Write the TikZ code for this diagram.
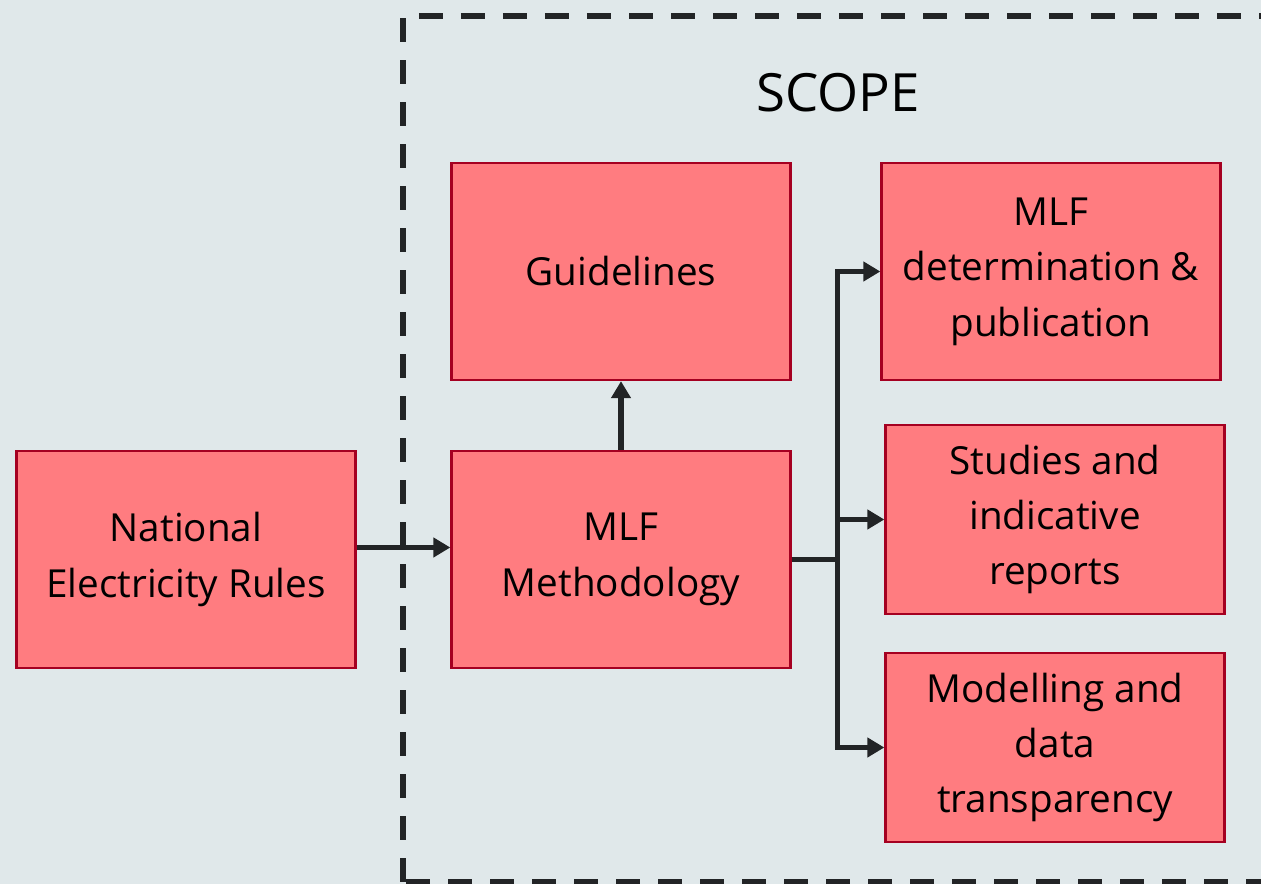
\documentclass[tikz,border=0pt]{standalone}
\usepackage{fontspec}
\setmainfont{Open Sans}
\usetikzlibrary{positioning,arrows.meta}
\definecolor{bgcol}{HTML}{E0E8EA}
\definecolor{boxfill}{HTML}{FF7C80}
\definecolor{boxline}{HTML}{A50021}
\definecolor{arrowcol}{HTML}{222426}

\begin{document}
\begin{tikzpicture}[on grid,
        box/.style={rectangle,draw=boxline,fill=boxfill,line width=1.3pt,
            minimum width=6.78cm,minimum height=4.34cm,align=center,
            font=\fontsize{22}{31.5}\selectfont},
        shortbox/.style={box,minimum height=3.78cm},
        link/.style={draw=arrowcol,line width=3.2pt,
            -{Triangle[length=0.34cm,width=0.38cm]}}]
        \fill[bgcol] (0,0) rectangle (25.22,-17.68);
        \useasboundingbox (0,0) rectangle (25.22,-17.68);
        \begin{scope}
        \clip (0,0) rectangle (25.22,-17.68);
        \draw[arrowcol,line width=3.4pt,dash pattern=on 0.48cm off 0.36cm]
            (8.06,-17.64) -- (8.06,-0.32) -- (26,-0.32);
        \draw[arrowcol,line width=3.4pt,dash pattern=on 0.48cm off 0.36cm]
            (8.12,-17.64) -- (26,-17.64);
        \end{scope}
        \node (scope) at (16.76,-1.86) {\fontsize{30}{36}\selectfont SCOPE};

        \node[box] (ner) at (3.72,-11.19) {National\\Electricity Rules};
        \node[box] (meth) [right=8.7cm of ner] {MLF\\Methodology};
        \node[box] (guide) [above=5.76cm of meth] {Guidelines};
        \node[box] (det) [above right=5.76cm and 8.6cm of meth] {MLF\\determination \&\\publication};
        \node[shortbox] (studies) [above right=0.8cm and 8.68cm of meth] {Studies and\\indicative\\reports};
        \node[shortbox] (model) [below right=3.76cm and 8.68cm of meth] {Modelling and\\data\\transparency};
        \coordinate (split) at ([xshift=0.92cm]meth.east);

        \draw[link] ([yshift=0.24cm]ner.east) -- ([yshift=0.24cm]meth.west);
        \draw[link] (meth) -- (guide);
        \draw[link] (meth.east) -- (split) |- (det);
        \draw[link] (split) |- (studies);
        \draw[link] (split) |- (model);
    \end{tikzpicture}
\end{document}
